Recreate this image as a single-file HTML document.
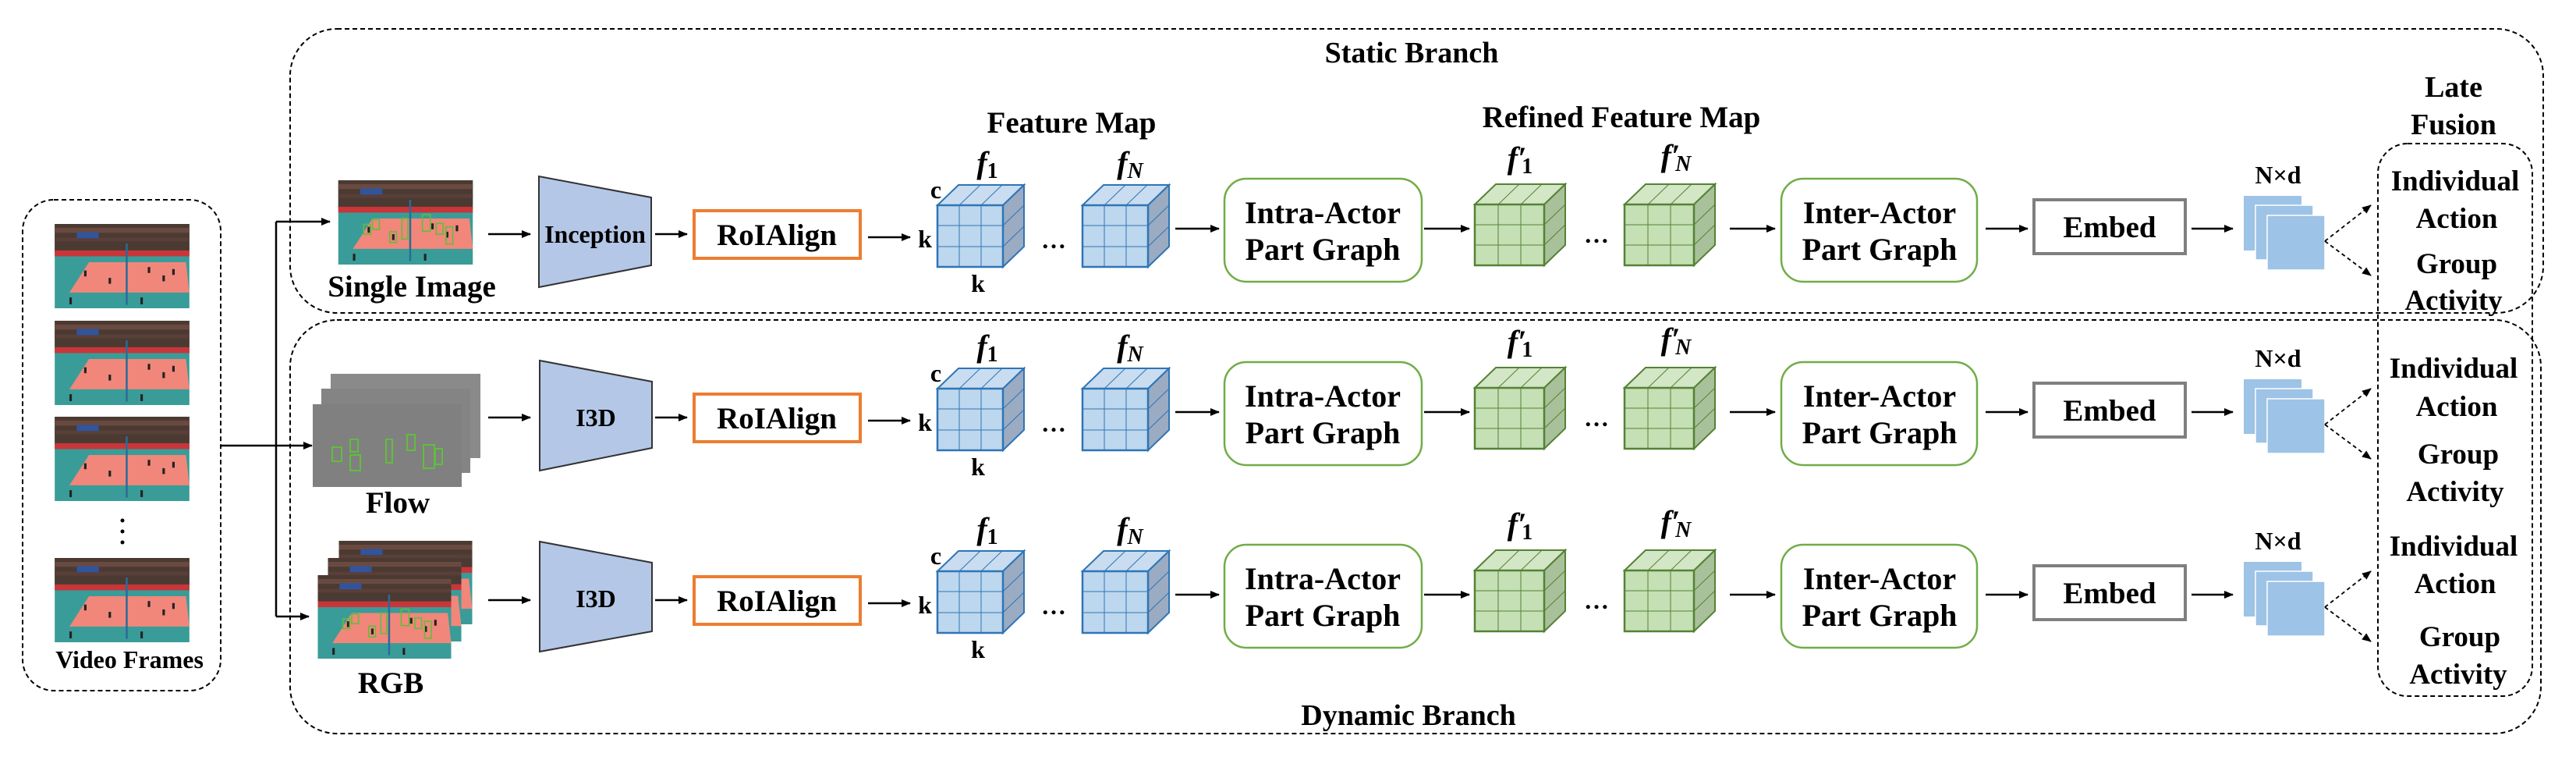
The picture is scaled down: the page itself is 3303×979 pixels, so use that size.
<!DOCTYPE html>
<html><head><meta charset="utf-8"><style>
html,body{margin:0;padding:0;background:#fff}
svg{display:block}
text{font-family:"Liberation Serif","DejaVu Serif",serif;font-weight:bold;fill:#000}
</style></head><body>
<svg width="3303" height="979" viewBox="0 0 3303 979" xmlns="http://www.w3.org/2000/svg" font-family="Liberation Serif, DejaVu Serif, serif" font-weight="bold">
<defs>
<marker id="ah" markerUnits="userSpaceOnUse" markerWidth="12" markerHeight="10" refX="11" refY="5" orient="auto"><path d="M0,0 L12,5 L0,10 z" fill="#000"/></marker>
<symbol id="frame" viewBox="0 0 275 172">
<rect width="275" height="172" fill="#3a9c98"/>
<rect width="275" height="58" fill="#4a3a32"/>
<rect x="0" y="8" width="275" height="10" fill="#6a4a40"/>
<rect x="0" y="28" width="275" height="8" fill="#5a3f38"/>
<rect x="45" y="17" width="45" height="12" fill="#2f55a0"/>
<rect x="0" y="54" width="275" height="12" fill="#c8363a"/>
<polygon points="30,140 275,140 268,78 70,78" fill="#f0877a"/>
<rect x="145" y="40" width="4" height="125" fill="#2a6b9a"/>
<g fill="#222"><rect x="60" y="95" width="5" height="12"/><rect x="110" y="110" width="5" height="12"/><rect x="190" y="88" width="5" height="12"/><rect x="220" y="105" width="5" height="12"/><rect x="240" y="92" width="5" height="12"/><rect x="30" y="150" width="5" height="14"/><rect x="175" y="150" width="5" height="14"/></g>
</symbol>
<symbol id="frameb" viewBox="0 0 275 172">
<use href="#frame" width="275" height="172"/>
<g fill="none" stroke="#5fbf3a" stroke-width="2.5"><rect x="52" y="90" width="14" height="20"/><rect x="105" y="105" width="14" height="22"/><rect x="130" y="78" width="12" height="42"/><rect x="172" y="70" width="16" height="34"/><rect x="200" y="88" width="14" height="22"/><rect x="220" y="95" width="14" height="35"/><rect x="70" y="80" width="14" height="20"/></g>
</symbol>
<symbol id="bcube" viewBox="0 0 112 106" overflow="visible">
<polygon points="0,26 27,0 111,0 84,26" fill="#c9dcf0" stroke="#2e75b6" stroke-width="2"/>
<polygon points="84,26 111,0 111,79 84,105" fill="#9aabc2" stroke="#2e75b6" stroke-width="2"/>
<rect x="0" y="26" width="84" height="79" fill="#bdd7ee" stroke="#2e75b6" stroke-width="2.5"/>
<g stroke="#2e75b6" stroke-width="1"><line x1="28" y1="26" x2="28" y2="105"/><line x1="56" y1="26" x2="56" y2="105"/><line x1="0" y1="52" x2="84" y2="52"/><line x1="0" y1="79" x2="84" y2="79"/><line x1="28" y1="26" x2="55" y2="0"/><line x1="56" y1="26" x2="83" y2="0"/><line x1="84" y1="52" x2="111" y2="26"/><line x1="84" y1="79" x2="111" y2="53"/></g>
</symbol>
<symbol id="gcube" viewBox="0 0 117 106" overflow="visible">
<polygon points="0,26 27,0 116,0 89,26" fill="#d3e6c6" stroke="#548235" stroke-width="2"/>
<polygon points="89,26 116,0 116,78 89,104" fill="#a9c19a" stroke="#548235" stroke-width="2"/>
<rect x="0" y="26" width="89" height="78" fill="#c5e0b4" stroke="#548235" stroke-width="2.5"/>
<g stroke="#548235" stroke-width="1"><line x1="30" y1="26" x2="30" y2="104"/><line x1="59" y1="26" x2="59" y2="104"/><line x1="0" y1="52" x2="89" y2="52"/><line x1="0" y1="78" x2="89" y2="78"/><line x1="30" y1="26" x2="57" y2="0"/><line x1="59" y1="26" x2="86" y2="0"/><line x1="89" y1="52" x2="116" y2="26"/><line x1="89" y1="78" x2="116" y2="52"/></g>
</symbol>
<g id="row">
<line x1="626" y1="300" x2="680" y2="300" stroke="#000" stroke-width="2.5" marker-end="url(#ah)"/>
<line x1="840" y1="300" x2="881" y2="300" stroke="#000" stroke-width="2.5" marker-end="url(#ah)"/>
<rect x="890" y="270" width="213" height="61" fill="#fff" stroke="#ed7d31" stroke-width="4"/>
<text x="996" y="314" font-size="39" text-anchor="middle">RoIAlign</text>
<line x1="1113" y1="304" x2="1167" y2="304" stroke="#000" stroke-width="2.5" marker-end="url(#ah)"/>
<text x="1200" y="254" font-size="32" text-anchor="middle">c</text>
<text x="1186" y="317" font-size="32" text-anchor="middle">k</text>
<text x="1254" y="374" font-size="32" text-anchor="middle">k</text>
<use href="#bcube" x="1202" y="237" width="112" height="106"/>
<use href="#bcube" x="1388" y="237" width="112" height="106"/>
<text x="1266" y="222" font-size="40" text-anchor="middle"><tspan font-style="italic">f</tspan><tspan font-size="28" dy="6">1</tspan></text>
<text x="1449" y="222" font-size="40" text-anchor="middle"><tspan font-style="italic">f</tspan><tspan font-size="28" dy="6" font-style="italic">N</tspan></text>
<text x="1351" y="318" font-size="32" text-anchor="middle">…</text>
<line x1="1507" y1="293" x2="1563" y2="293" stroke="#000" stroke-width="2.5" marker-end="url(#ah)"/>
<rect x="1570" y="229" width="253" height="132" rx="28" fill="#fff" stroke="#70ad47" stroke-width="2.5"/>
<text x="1696" y="286" font-size="40" text-anchor="middle">Intra-Actor</text>
<text x="1696" y="333" font-size="40" text-anchor="middle">Part Graph</text>
<line x1="1826" y1="293" x2="1884" y2="293" stroke="#000" stroke-width="2.5" marker-end="url(#ah)"/>
<use href="#gcube" x="1891" y="236" width="117" height="106"/>
<use href="#gcube" x="2083" y="236" width="117" height="106"/>
<text x="1949" y="216" font-size="40" text-anchor="middle"><tspan font-style="italic">f′</tspan><tspan font-size="28" dy="6" dx="-6">1</tspan></text>
<text x="2149" y="213" font-size="40" text-anchor="middle"><tspan font-style="italic">f′</tspan><tspan font-size="28" dy="6" dx="-6" font-style="italic">N</tspan></text>
<text x="2047" y="311" font-size="32" text-anchor="middle">…</text>
<line x1="2218" y1="293" x2="2276" y2="293" stroke="#000" stroke-width="2.5" marker-end="url(#ah)"/>
<rect x="2284" y="229" width="251" height="132" rx="28" fill="#fff" stroke="#70ad47" stroke-width="2.5"/>
<text x="2410" y="286" font-size="40" text-anchor="middle">Inter-Actor</text>
<text x="2410" y="333" font-size="40" text-anchor="middle">Part Graph</text>
<line x1="2546" y1="293" x2="2600" y2="293" stroke="#000" stroke-width="2.5" marker-end="url(#ah)"/>
<rect x="2608" y="256" width="194" height="69" fill="#fff" stroke="#7f7f7f" stroke-width="4"/>
<text x="2705" y="304" font-size="39" text-anchor="middle">Embed</text>
<line x1="2810" y1="293" x2="2863" y2="293" stroke="#000" stroke-width="2.5" marker-end="url(#ah)"/>
<text x="2921" y="235" font-size="32" text-anchor="middle">N×d</text>
<rect x="2877" y="251" width="74" height="70" fill="#9dc3e6"/>
<rect x="2892" y="263" width="74" height="70" fill="#9dc3e6" stroke="#fff" stroke-width="1.5"/>
<rect x="2907" y="276" width="74" height="70" fill="#9dc3e6" stroke="#fff" stroke-width="1.5"/>
<line x1="2981" y1="309" x2="3040" y2="263" stroke="#000" stroke-width="1.8" stroke-dasharray="5,4" marker-end="url(#ah)"/>
<line x1="2981" y1="309" x2="3040" y2="353" stroke="#000" stroke-width="1.8" stroke-dasharray="5,4" marker-end="url(#ah)"/>
</g>
</defs>

<rect x="29" y="256" width="254" height="629" rx="40" fill="none" stroke="#000" stroke-width="2" stroke-dasharray="6,4"/>
<use href="#frame" x="60" y="287" width="193" height="108"/>
<use href="#frame" x="60" y="411" width="193" height="108"/>
<use href="#frame" x="60" y="534" width="193" height="108"/>
<circle cx="157" cy="667" r="2.5"/><circle cx="157" cy="681" r="2.5"/><circle cx="157" cy="695" r="2.5"/>
<use href="#frame" x="60" y="715" width="193" height="108"/>
<text x="166" y="856" font-size="32" text-anchor="middle">Video Frames</text>

<line x1="283" y1="571" x2="354" y2="571" stroke="#000" stroke-width="2.5"/>
<line x1="354" y1="284" x2="354" y2="790" stroke="#000" stroke-width="2.5"/>
<line x1="354" y1="284" x2="423" y2="284" stroke="#000" stroke-width="2.5" marker-end="url(#ah)"/>
<line x1="354" y1="571" x2="400" y2="571" stroke="#000" stroke-width="2.5" marker-end="url(#ah)"/>
<line x1="354" y1="790" x2="396" y2="790" stroke="#000" stroke-width="2.5" marker-end="url(#ah)"/>

<rect x="372" y="37" width="2889" height="364" rx="60" fill="none" stroke="#000" stroke-width="2" stroke-dasharray="6,4"/>
<rect x="372" y="410" width="2886" height="530" rx="60" fill="none" stroke="#000" stroke-width="2" stroke-dasharray="6,4"/>
<text x="1810" y="80" font-size="38" text-anchor="middle">Static Branch</text>
<text x="1806" y="929" font-size="38" text-anchor="middle">Dynamic Branch</text>
<text x="1374" y="170" font-size="39" text-anchor="middle">Feature Map</text>
<text x="2079" y="163" font-size="39" text-anchor="middle">Refined Feature Map</text>

<use href="#frameb" x="424" y="231" width="192" height="108"/>
<text x="528" y="380" font-size="39" text-anchor="middle">Single Image</text>
<rect x="424" y="479" width="192" height="108" fill="#8a8a8a"/>
<rect x="412" y="498" width="191" height="108" fill="#848484"/>
<rect x="401" y="518" width="191" height="106" fill="#808080"/>
<g fill="none" stroke="#5fbf3a" stroke-width="2"><rect x="426" y="573" width="12" height="18"/><rect x="449" y="563" width="10" height="16"/><rect x="449" y="583" width="13" height="20"/><rect x="495" y="563" width="8" height="30"/><rect x="522" y="557" width="10" height="20"/><rect x="543" y="570" width="14" height="30"/><rect x="558" y="575" width="9" height="20"/></g>
<text x="510" y="657" font-size="39" text-anchor="middle">Flow</text>
<use href="#frameb" x="424" y="693" width="192" height="107"/>
<use href="#frameb" x="410" y="715" width="192" height="107"/>
<use href="#frameb" x="397" y="737" width="192" height="107"/>
<text x="501" y="888" font-size="39" text-anchor="middle">RGB</text>

<use href="#row"/>
<use href="#row" y="235"/>
<use href="#row" y="469"/>

<polygon points="691,226 835,253 835,340 691,368" fill="#b4c7e7" stroke="#333" stroke-width="2"/>
<text x="763" y="311" font-size="32" text-anchor="middle">Inception</text>
<polygon points="692,462 836,489 836,574 692,603" fill="#b4c7e7" stroke="#333" stroke-width="2"/>
<text x="764" y="546" font-size="32" text-anchor="middle">I3D</text>
<polygon points="692,694 836,721 836,809 692,835" fill="#b4c7e7" stroke="#333" stroke-width="2"/>
<text x="764" y="778" font-size="32" text-anchor="middle">I3D</text>

<text x="3146" y="124" font-size="38" text-anchor="middle">Late</text>
<text x="3146" y="172" font-size="38" text-anchor="middle">Fusion</text>
<rect x="3049" y="184" width="198" height="708" rx="38" fill="none" stroke="#000" stroke-width="2" stroke-dasharray="6,4"/>
<g font-size="37" text-anchor="middle">
<text x="3148" y="244">Individual</text><text x="3150" y="292">Action</text>
<text x="3150" y="350">Group</text><text x="3146" y="397">Activity</text>
<text x="3146" y="484">Individual</text><text x="3150" y="533">Action</text>
<text x="3152" y="594">Group</text><text x="3148" y="642">Activity</text>
<text x="3146" y="712">Individual</text><text x="3148" y="760">Action</text>
<text x="3154" y="828">Group</text><text x="3152" y="876">Activity</text>
</g>
</svg>
</body></html>
